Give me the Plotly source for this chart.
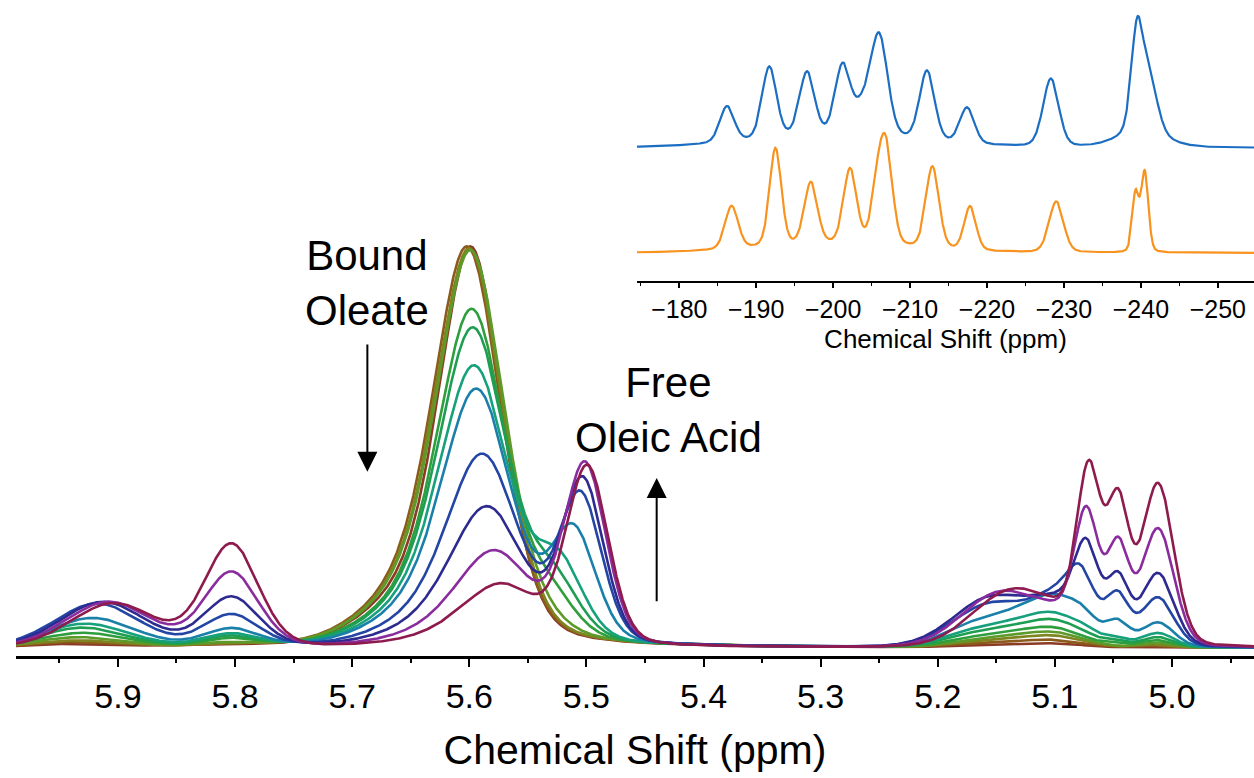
import numpy as np
import plotly.graph_objects as go

# ---------------- main 1H spectra (12 time points, first -> last) ----------------
colors = ["#8B3A24", "#8C5B1C", "#7E8420", "#5C9B2A", "#2F9E3C", "#1E9E52",
          "#17A07C", "#1A80AA", "#2346A4", "#2D2A90", "#8A2C9E", "#8E1B4E"]

# 5.9 ppm multiplet
a_c = [5.935, 5.935, 5.935, 5.933, 5.930, 5.930, 5.928, 5.922, 5.918, 5.913, 5.908, 5.904]
a_h = [0.8, 1.2, 1.6, 2.4, 3.5, 4.8, 5.8, 7.2, 10.8, 11.2, 11.2, 10.8]
a_w = 0.085
# 5.80 ppm peak
b_c = 5.803
b_h = [0.3, 0.4, 0.5, 0.8, 1.8, 2.4, 3.0, 4.3, 7.8, 12.2, 18.4, 25.4]
b_w = 0.054
# bound oleate
bound_c = [5.598, 5.601, 5.599, 5.598, 5.597, 5.596, 5.595, 5.593, 5.588, 5.584, 5.578, 5.572]
bound_h = [95.0, 95.0, 94.5, 94.0, 80.0, 75.5, 66.5, 61.0, 45.5, 33.0, 22.5, 14.6]
bound_w = [0.064, 0.068, 0.068, 0.068, 0.068, 0.069, 0.070, 0.070, 0.072, 0.074, 0.076, 0.078]
shoulder_h = [10.0, 10.0, 10.0, 10.0, 8.4, 8.0, 7.0, 6.4, 4.8, 3.5, 2.4, 1.6]
shoulder_off = 0.05
shoulder_w = 0.094
# free oleic acid
free_c = [5.530, 5.530, 5.530, 5.535, 5.530, 5.527, 5.523, 5.511, 5.505, 5.503, 5.501, 5.499]
free_h = [0.0, 0.0, 0.0, 2.0, 9.0, 13.0, 18.0, 27.0, 36.0, 40.0, 44.0, 43.5]
free_w = [0.05, 0.05, 0.05, 0.05, 0.05, 0.05, 0.048, 0.045, 0.043, 0.042, 0.042, 0.042]
# 5.0 - 5.2 ppm region
h1_c = [5.150, 5.150, 5.150, 5.150, 5.152, 5.155, 5.155, 5.155, 5.155, 5.155, 5.148, 5.140]
h1_h = [0.5, 1.0, 1.6, 2.2, 3.0, 4.0, 5.0, 7.0, 10.5, 12.0, 13.0, 13.0]
h1_w = 0.075
h2_c = [5.100, 5.100, 5.100, 5.100, 5.100, 5.100, 5.100, 5.098, 5.090, 5.095, 5.095, 5.095]
h2_h = [0.9, 1.6, 2.5, 3.2, 4.2, 6.0, 7.5, 11.5, 13.0, 10.0, 6.0, 5.0]
h2_w = 0.06
m1_c = [5.072, 5.072, 5.072, 5.072, 5.072, 5.072, 5.072, 5.075, 5.078, 5.073, 5.073, 5.071]
m1_h = [0.0, 0.0, 0.0, 0.0, 0.0, 0.3, 1.0, 2.0, 8.0, 19.0, 29.0, 40.0]
m1_w = 0.024
m2_c = 5.046
m2_h = [0.0, 0.0, 0.0, 0.0, 0.6, 1.0, 1.5, 5.0, 10.0, 15.0, 23.0, 33.0]
m2_w = 0.022
m3_c = 5.012
m3_h = [0.0, 0.5, 0.8, 1.2, 1.8, 2.5, 3.5, 6.0, 12.0, 18.0, 29.0, 40.0]
m3_w = 0.032

main_ticks = [5.9, 5.8, 5.7, 5.6, 5.5, 5.4, 5.3, 5.2, 5.1, 5.0]

# ---------------- inset spectra ----------------
blue_c = [-200.0, -186.2, -191.7, -196.6, -201.2, -203.8, -206.0, -212.2, -217.4, -228.3, -239.5, -241.1, -240.0]
blue_h = [11.0, 36.0, 72.0, 64.0, 68.0, 26.0, 98.0, 70.0, 36.0, 68.0, 98.0, 52.0, 15.0]
blue_w = [26.0, 2.2, 2.2, 2.3, 2.3, 3.0, 2.6, 2.3, 2.2, 2.4, 1.8, 2.5, 7.0]
orange_c = [-200.0, -186.8, -192.5, -197.1, -202.2, -205.9, -207.0, -212.9, -217.8, -229.0, -239.3, -240.5]
orange_h = [8.0, 43.0, 98.0, 62.0, 75.0, 62.0, 78.0, 82.0, 44.0, 51.0, 58.0, 80.0]
orange_w = [24.0, 2.0, 1.8, 2.0, 2.0, 2.0, 1.9, 2.0, 1.8, 2.2, 1.0, 1.1]
blue_offset = 133.0
orange_offset = 28.0
inset_ticks = [-180, -190, -200, -210, -220, -230, -240, -250]


def pv(x, c, h, w, eta):
    hw = w / 2.0
    u = (x - c) / hw
    return h * (eta / (1.0 + u * u) + (1.0 - eta) * np.exp(-np.log(2.0) * u * u))


x = np.linspace(4.930, 5.987, 2400)
fig = go.Figure()

for i, col in enumerate(colors):
    y = (pv(x, a_c[i], a_h[i], a_w, 0.15)
         + pv(x, b_c, b_h[i], b_w, 0.15)
         + pv(x, bound_c[i], bound_h[i], bound_w[i], 0.3)
         + pv(x, bound_c[i] + shoulder_off, shoulder_h[i], shoulder_w, 0.0)
         + pv(x, free_c[i], free_h[i], free_w[i], 0.2)
         + pv(x, h1_c[i], h1_h[i], h1_w, 0.1)
         + pv(x, h2_c[i], h2_h[i], h2_w, 0.1)
         + pv(x, m1_c[i], m1_h[i], m1_w, 0.15)
         + pv(x, m2_c, m2_h[i], m2_w, 0.15)
         + pv(x, m3_c, m3_h[i], m3_w, 0.15))
    fig.add_trace(go.Scatter(x=x, y=y, mode="lines", line=dict(color=col, width=2.6),
                             showlegend=False, hoverinfo="skip", xaxis="x", yaxis="y"))

xi = np.linspace(-254.7, -174.5, 1800)
yb = blue_offset + sum(pv(xi, c, h, w, 0.2) for c, h, w in zip(blue_c, blue_h, blue_w))
yo = orange_offset + sum(pv(xi, c, h, w, 0.2) for c, h, w in zip(orange_c, orange_h, orange_w))
fig.add_trace(go.Scatter(x=xi, y=yb, mode="lines", line=dict(color="#1B6EC2", width=2.2),
                         showlegend=False, hoverinfo="skip", xaxis="x2", yaxis="y2"))
fig.add_trace(go.Scatter(x=xi, y=yo, mode="lines", line=dict(color="#F7931E", width=2.2),
                         showlegend=False, hoverinfo="skip", xaxis="x2", yaxis="y2"))

font_fam = "Arial, Liberation Sans, sans-serif"

fig.update_layout(
    width=1254, height=778,
    margin=dict(l=16, r=0, t=10, b=122),
    paper_bgcolor="white", plot_bgcolor="rgba(0,0,0,0)",
    font=dict(family=font_fam, color="black"),
    xaxis=dict(range=[5.987, 4.930], domain=[0, 1], showgrid=False, zeroline=False,
               showline=True, linewidth=3, linecolor="black",
               tickmode="array", tickvals=main_ticks, tickformat=".1f",
               ticks="outside", ticklen=8, tickwidth=2, tickcolor="black",
               minor=dict(ticks="outside", ticklen=4, dtick=0.05, tick0=5.0, tickwidth=1.5, tickcolor="black"),
               tickfont=dict(size=34, family=font_fam),
               title=dict(text="Chemical Shift (ppm)", font=dict(size=41, family=font_fam), standoff=22)),
    yaxis=dict(range=[-1.99, 158.3], visible=False, showgrid=False, zeroline=False),
    xaxis2=dict(range=[-174.5, -254.7], domain=[0.5016, 1.0], anchor="y2", showgrid=False, zeroline=False,
                showline=True, linewidth=2, linecolor="black",
                tickmode="array", tickvals=inset_ticks,
                ticks="outside", ticklen=5, tickwidth=1.5, tickcolor="black",
                minor=dict(ticks="outside", ticklen=3, dtick=5, tick0=-180, tickwidth=1, tickcolor="black"),
                tickfont=dict(size=25, family=font_fam),
                title=dict(text="Chemical Shift (ppm)", font=dict(size=26, family=font_fam), standoff=8)),
    yaxis2=dict(range=[0, 271], domain=[0.5805, 1.0], anchor="x2", visible=False, showgrid=False, zeroline=False),
)

fig.add_annotation(x=5.687, y=90.6, xref="x", yref="y", text="Bound<br>Oleate", showarrow=False,
                   font=dict(size=42, family=font_fam, color="black"), align="center")
fig.add_annotation(x=5.430, y=59.0, xref="x", yref="y", text="Free<br>Oleic Acid", showarrow=False,
                   font=dict(size=42, family=font_fam, color="black"), align="center")
fig.add_annotation(x=5.687, y=43.7, ax=5.687, ay=75.7, xref="x", yref="y", axref="x", ayref="y",
                   text="", showarrow=True, arrowhead=2, arrowsize=2.0, arrowwidth=2, arrowcolor="black")
fig.add_annotation(x=5.440, y=42.2, ax=5.440, ay=11.2, xref="x", yref="y", axref="x", ayref="y",
                   text="", showarrow=True, arrowhead=2, arrowsize=2.0, arrowwidth=2, arrowcolor="black")

fig.write_html("out.html")
